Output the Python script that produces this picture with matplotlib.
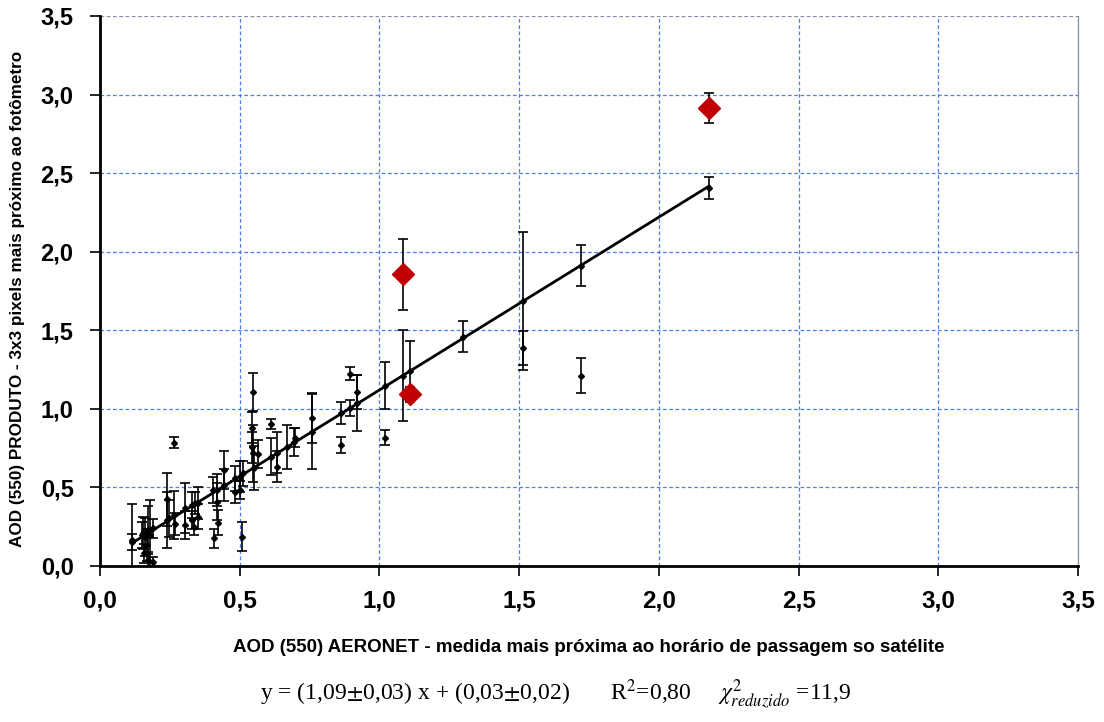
import matplotlib
matplotlib.use("Agg")
import matplotlib.pyplot as plt
import numpy as np

# ---------------- data ----------------
x_black = [0.113, 0.113, 0.149, 0.155, 0.160, 0.167, 0.173, 0.159, 0.173, 0.191,
           0.191, 0.180, 0.239, 0.239, 0.247, 0.266, 0.268, 0.266, 0.304, 0.304,
           0.328, 0.340, 0.328, 0.335, 0.350, 0.350, 0.405, 0.418, 0.418, 0.421,
           0.409, 0.445, 0.445, 0.483, 0.483, 0.501, 0.501, 0.507, 0.511, 0.543,
           0.548, 0.543, 0.549, 0.567, 0.552, 0.612, 0.612, 0.632, 0.632, 0.670,
           0.695, 0.697, 0.759, 0.759, 0.863, 0.863, 0.895, 0.895, 0.921, 0.921,
           1.020, 1.020, 1.083, 1.110, 1.298, 1.514, 1.514, 1.722, 1.722, 2.180]
y_black = [0.166, 0.152, 0.197, 0.210, 0.185, 0.134, 0.229, 0.080, 0.038, 0.027,
           0.240, 0.200, 0.425, 0.293, 0.303, 0.325, 0.267, 0.785, 0.367, 0.261,
           0.388, 0.403, 0.293, 0.250, 0.400, 0.314, 0.484, 0.484, 0.410, 0.276,
           0.176, 0.611, 0.516, 0.558, 0.473, 0.568, 0.484, 0.187, 0.590, 0.880,
           1.106, 0.755, 0.717, 0.713, 0.622, 0.904, 0.696, 0.721, 0.632, 0.760,
           0.791, 0.817, 0.940, 0.855, 0.976, 0.768, 1.224, 1.006, 1.106, 1.036,
           1.146, 0.817, 1.210, 1.239, 1.460, 1.687, 1.386, 1.911, 1.211, 2.408]
e_black = [0.230, 0.050, 0.080, 0.100, 0.120, 0.100, 0.150, 0.060, 0.050, 0.030,
           0.060, 0.220, 0.170, 0.180, 0.120, 0.150, 0.070, 0.035, 0.160, 0.090,
           0.080, 0.070, 0.060, 0.050, 0.100, 0.080, 0.080, 0.100, 0.120, 0.080,
           0.060, 0.120, 0.100, 0.080, 0.070, 0.100, 0.060, 0.090, 0.080, 0.100,
           0.120, 0.100, 0.180, 0.090, 0.140, 0.030, 0.120, 0.130, 0.100, 0.140,
           0.090, 0.060, 0.160, 0.240, 0.070, 0.050, 0.040, 0.050, 0.110, 0.180,
           0.150, 0.050, 0.290, 0.190, 0.100, 0.440, 0.110, 0.130, 0.110, 0.070]

x_red = [1.083, 1.111, 2.181]
y_red = [1.857, 1.092, 2.913]
e_red = [0.225, 0.050, 0.097]

fit_slope = 1.10
fit_intercept = 0.02

x_ticks = [0.0, 0.5, 1.0, 1.5, 2.0, 2.5, 3.0, 3.5]
tick_labels = ["0,0", "0,5", "1,0", "1,5", "2,0", "2,5", "3,0", "3,5"]

xlabel = "AOD (550) AERONET - medida mais próxima ao horário de passagem so satélite"
ylabel = "AOD (550) PRODUTO - 3x3 pixels mais próximo ao fotômetro"

# ---------------- plot ----------------
plt.rcParams['font.family'] = ['Liberation Sans', 'DejaVu Sans']
plt.rcParams['mathtext.fontset'] = 'stix'
fig = plt.figure(figsize=(11.04, 7.22), dpi=100)
ax = fig.add_axes([100/1104, 1-566/722, (1078-100)/1104, (566-16)/722])

ax.set_xlim(0, 3.5)
ax.set_ylim(0, 3.5)

grid_color = '#4d7ff0'
for v in x_ticks[1:]:
    ax.axvline(v, color=grid_color, lw=0.9, ls=(0, (3, 2)), zorder=0)
    ax.axhline(v, color=grid_color if v < 3.5 else '#8890a8', lw=0.9, ls=(0, (3, 2)), zorder=0)

ax.errorbar(x_black, y_black, yerr=e_black, fmt='D', color='black', ms=3,
            ecolor='black', elinewidth=1.2, capsize=3.5, capthick=1.2, zorder=3)
ax.errorbar(x_red, y_red, yerr=e_red, fmt='none', ecolor='black',
            elinewidth=1.2, capsize=3.5, capthick=1.2, zorder=3)
ax.plot(x_red, y_red, 'D', color='#c00000', ms=11, zorder=5)

xf = np.array([min(x_black), max(x_black)])
ax.plot(xf, fit_slope * xf + fit_intercept, color='black', lw=2, zorder=4)

ax.set_xticks(x_ticks)
ax.set_xticklabels(tick_labels)
ax.set_yticks(x_ticks)
ax.set_yticklabels(tick_labels)
for lab in ax.get_xticklabels():
    lab.set_fontweight('bold')
    lab.set_fontsize(17.5)
for lab in ax.get_yticklabels():
    lab.set_fontweight('bold')
    lab.set_fontsize(17)
ax.tick_params(axis='both', direction='out', length=7, width=1.2, colors='black')
ax.tick_params(axis='x', pad=10)
ax.tick_params(axis='y', pad=12)

ax.spines['left'].set_linewidth(2)
ax.spines['bottom'].set_linewidth(2)
ax.spines['right'].set_color('#8890a8')
ax.spines['right'].set_linewidth(0.9)
ax.spines['top'].set_visible(False)

fig.text(589/1104, 1-647/722, xlabel, ha='center', va='center',
         fontsize=13.5, fontweight='bold')
fig.text(18/1104, 1-299/722, ylabel, ha='center', va='center',
         fontsize=12.3, fontweight='bold', rotation=90)

eq = r"y = (1,09$\pm$0,03) x + (0,03$\pm$0,02)       R$^2$=0,80     $\chi^2_{reduzido}$ =11,9"
fig.text(556/1104, 1-695/722, eq, ha='center', va='center',
         fontsize=17, family=['Liberation Serif', 'DejaVu Serif'])

fig.savefig("out.png", dpi=100)
